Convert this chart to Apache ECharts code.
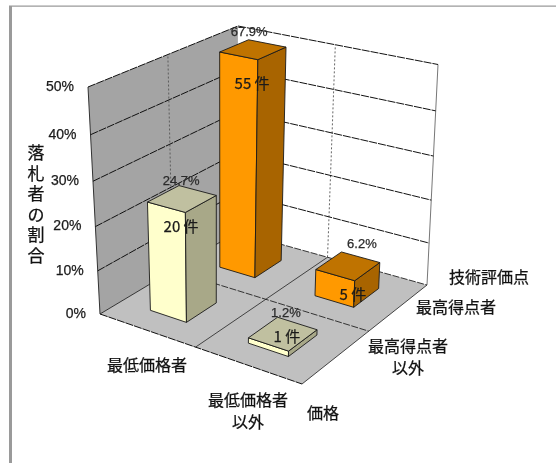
<!DOCTYPE html>
<html>
<head>
<meta charset="utf-8">
<style>html,body{margin:0;padding:0;background:#fff}#chart{width:556px;height:463px}</style>
<script src="https://cdn.jsdelivr.net/npm/echarts@6/dist/echarts.min.js"></script>
</head>
<body>
<div id="chart"></div>
<script>
// Share of winning bidders by price rank and technical-score rank
const priceCategories = ['最低価格者', '最低価格者\n以外'];
const techCategories = ['最高得点者以外', '最高得点者'];
const yTicks = [0, 10, 20, 30, 40, 50];
const axisMax = 50;
const sharesTop = [67.9, 6.2];
const sharesOther = [24.7, 1.2];
const countsTop = [55, 5];
const countsOther = [20, 1];

// Screen corners of the 3D box: floor and ceiling, ordered front-left, front, right, back
const floorQuad = [[100, 314], [302, 384], [427, 285], [237, 232]];
const ceilQuad = [[88, 87], [308, 135], [438, 64.5], [238, 26]];
const heightBow = 1.065;
const barHalfU = 0.095, barHalfV = 0.105;

const CJK = '"Noto Sans CJK JP"';
const LATIN = '"Liberation Sans"';

function quadMap(q) {
  const [[x0, y0], [x1, y1], [x2, y2], [x3, y3]] = q;
  const dx1 = x1 - x2, dx2 = x3 - x2, sx = x0 - x1 + x2 - x3;
  const dy1 = y1 - y2, dy2 = y3 - y2, sy = y0 - y1 + y2 - y3;
  const den = dx1 * dy2 - dx2 * dy1;
  const g = (sx * dy2 - dx2 * sy) / den, h = (dx1 * sy - sx * dy1) / den;
  const a = x1 - x0 + g * x1, b = x3 - x0 + h * x3;
  const d = y1 - y0 + g * y1, e = y3 - y0 + h * y3;
  return (u, v) => {
    const w = g * u + h * v + 1;
    return [(a * u + b * v + x0) / w, (d * u + e * v + y0) / w];
  };
}
const floorAt = quadMap(floorQuad), ceilAt = quadMap(ceilQuad);
function project(u, v, t) {
  const k = t / (t + heightBow * (1 - t));
  const f = floorAt(u, v), c = ceilAt(u, v);
  return [f[0] + (c[0] - f[0]) * k, f[1] + (c[1] - f[1]) * k];
}

const poly = (pts, fill, stroke, lw) => ({
  type: 'polygon', shape: { points: pts },
  style: { fill, stroke: stroke || 'none', lineWidth: lw === undefined ? 0.9 : lw }
});
const seg = (a, b, stroke, lw, dash) => ({
  type: 'line', shape: { x1: a[0], y1: a[1], x2: b[0], y2: b[1] },
  style: { stroke, lineWidth: lw, lineDash: dash || null }
});
const label = (text, x, y, size, font, color, align, lineHeight) => ({
  type: 'text', silent: true,
  style: {
    text, x, y, fill: color || '#111', align: align || 'center', verticalAlign: 'middle',
    font: size + 'px ' + (font || CJK), lineHeight: lineHeight || 22,
    stroke: color || '#111', lineWidth: 0.25
  }
});

// Walls and floor of the box
function renderBox() {
  const corners = [[0, 0], [1, 0], [1, 1], [0, 1]];
  const fl = corners.map(c => project(c[0], c[1], 0));
  const [A, D, C, B] = fl;
  const At = project(0, 0, 1), Bt = project(0, 1, 1), Ct = project(1, 1, 1);
  const children = [
    poly([A, B, Bt, At], '#a4a4a4'),
    poly([B, C, Ct, Bt], '#ffffff'),
    poly([A, D, C, B], '#c0c0c0'),
    seg(A, At, '#333', 1),
    seg(C, Ct, '#777', 1),
    seg(A, D, '#111', 1, [8, 1]),
    seg(D, C, '#333', 0.9),
    seg(A, B, '#222', 0.9),
    seg(B, C, '#222', 0.9, [7, 1.5]),
    seg(project(0.5, 1, 0), project(0.5, 1, 1), '#555', 0.9, [2, 2]),
    seg(project(0, 0.5, 0), project(0, 0.5, 1), '#555', 0.9, [2, 2]),
    seg(project(0.5, 0, 0), project(0.5, 1, 0), '#333', 0.9),
    seg(project(0, 0.5, 0), project(1, 0.5, 0), '#222', 0.9, [7, 1.5])
  ];
  return { type: 'group', children };
}

// One tick: gridlines on both walls plus the percentage label
function renderTick(params, api) {
  const tick = api.value(1);
  const t = (100 - api.coord([0, tick])[1]) / 100;
  const left = project(0, 0, t), back = project(0, 1, t), right = project(1, 1, t);
  const children = [label(tick + '%', left[0] - 14, left[1], 14, LATIN, '#1a1a1a', 'right')];
  if (t > 0) {
    children.push(seg(left, back, '#111', 1, [8, 1]), seg(back, right, '#111', 1, [8, 1]));
  }
  return { type: 'group', children };
}

// Offsets of the share and count labels from the bar's top centre
const shareLabelOffset = { '0,1': [-4, -17], '1,1': [14, -22], '0,0': [-1, -17], '1,0': [3, -20] };
const countLabelOffset = { '0,1': [-1, 34], '1,1': [5, 28], '0,0': [-1, 28], '1,0': [4, 3] };

function barRenderer(vIndex, front, side, top) {
  return function (params, api) {
    const cx = api.coord([api.value(0), 0])[0] / 100;
    const t = Math.max(0, (100 - api.coord([0, Math.min(api.value(1), axisMax)])[1]) / 100);
    const cv = (vIndex + 0.5) / techCategories.length;
    const u0 = cx - barHalfU, u1 = cx + barHalfU, v0 = cv - barHalfV, v1 = cv + barHalfV;
    const fl = project(u0, v0, 0), fr = project(u1, v0, 0), br = project(u1, v1, 0);
    const tl = project(u0, v0, t), tf = project(u1, v0, t), tr = project(u1, v1, t), tb = project(u0, v1, t);
    const mid = project(cx, cv, t);
    const key = api.value(0) + ',' + vIndex;
    const so = shareLabelOffset[key], co = countLabelOffset[key];
    return {
      type: 'group',
      children: [
        poly([fl, fr, tf, tl], front, '#1a1a1a'),
        poly([fr, br, tr, tf], side, '#1a1a1a'),
        poly([tl, tf, tr, tb], top, '#1a1a1a'),
        label(api.value(1).toFixed(1) + '%', mid[0] + so[0], mid[1] + so[1], 13, LATIN, '#2a2a2a'),
        label(api.value(2) + ' 件', mid[0] + co[0], mid[1] + co[1], 15, CJK, '#1a1a1a')
      ]
    };
  };
}

function rows(shares, counts) {
  return shares.map((s, i) => [i, s, counts[i]]);
}

// Category and axis-name captions around the floor
function renderCaptions() {
  return {
    type: 'group',
    children: [
      label(priceCategories[0], 147, 365, 16),
      label(priceCategories[1], 248, 411, 16),
      label('価格', 323, 413, 16),
      label(techCategories[1], 456, 307, 16),
      label('最高得点者\n以外', 408, 357, 16),
      label('技術評価点', 489, 277, 16),
      label('落\n札\n者\nの\n割\n合', 36, 204, 17, CJK, '#111', 'center', 20.5),
      { type: 'rect', shape: { x: 9, y: 6, width: 3, height: 457 }, style: { fill: '#9a9a9a' } },
      { type: 'rect', shape: { x: 9, y: 5.5, width: 547, height: 1.2 }, style: { fill: '#9a9a9a' } }
    ]
  };
}

const chart = echarts.init(document.getElementById('chart'), null, { renderer: 'canvas' });
chart.setOption({
  animation: false,
  backgroundColor: '#ffffff',
  // Unit-sized grid: the scales below yield fractions of the box edges
  grid: { left: 0, top: 0, width: 100, height: 100, show: false },
  xAxis: { type: 'category', data: priceCategories, show: false },
  yAxis: { type: 'value', min: 0, max: axisMax, interval: 10, show: false },
  series: [
    { type: 'custom', data: [[0, 0]], renderItem: renderBox, silent: true },
    { type: 'custom', data: yTicks.map(v => [0, v]), encode: { x: 0, y: 1 }, silent: true, renderItem: renderTick },
    { type: 'custom', data: rows(sharesTop, countsTop), encode: { x: 0, y: 1 }, silent: true,
      renderItem: barRenderer(1, '#ff9900', '#a86400', '#bf7300') },
    { type: 'custom', data: rows(sharesOther, countsOther), encode: { x: 0, y: 1 }, silent: true,
      renderItem: barRenderer(0, '#ffffcc', '#a8a888', '#c0c0a0') },
    { type: 'custom', data: [[0, 0]], renderItem: renderCaptions, silent: true }
  ]
});
</script>
</body>
</html>
